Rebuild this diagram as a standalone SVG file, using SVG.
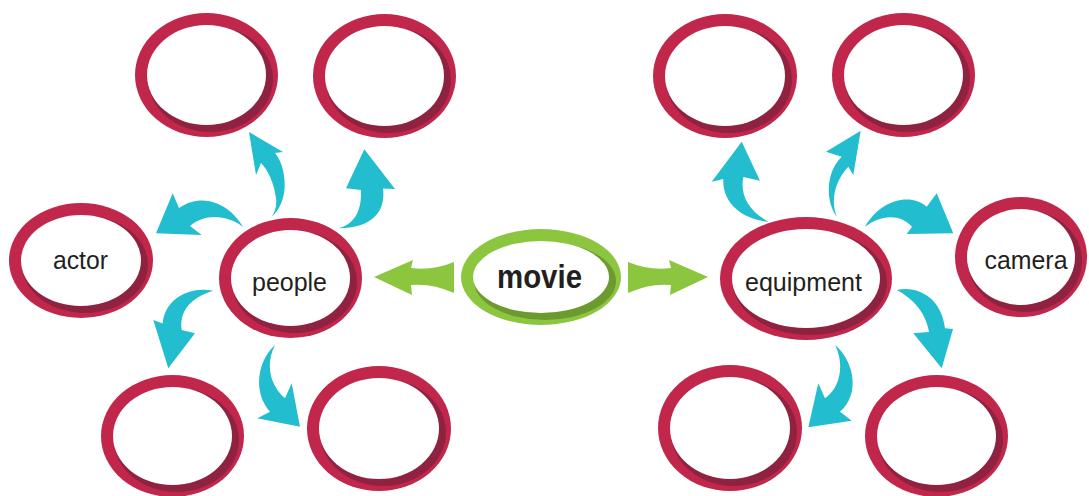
<svg xmlns="http://www.w3.org/2000/svg" width="1089" height="496" viewBox="0 0 1089 496">
<style>
.o{fill:#c1264b}
.d{fill:#8f2240}
.w{fill:#fff}
.go{fill:#8cc63f}
.gd{fill:#6c9a2f}
.a{fill:#22bdce}
.g{fill:#8cc63f}
.t{font-family:"Liberation Sans",Arial,sans-serif;font-size:26px;fill:#231f20;text-anchor:middle}
.b{font-weight:bold;font-size:33px}
</style>
<rect width="1089" height="496" fill="#fff"/>
<g id="connectors">
<path class="a" d="M271.7,216.7 C280,210 287,195 284,176 C283,166 279,158 275,153 L283,152 L249,132 L256,175 L261,163 C268,170 274,183 276,198 C277,206 275,212 271.7,216.7 Z"/>
<path class="a" d="M338.3,228.3 C352,225 362,214 361,190 L346,188.3 L364.3,149.3 L395,189 L383,188.5 C386,212 372,228 338.3,228.3 Z"/>
<path class="a" d="M243.3,227.3 C232,207 205,190 179,208 L172.7,193.3 L156,233.3 L201.7,235 L190,226 C205,213 228,215 243.3,227.3 Z"/>
<path class="a" d="M213.3,290.7 C190,286 165,298 162.7,323.5 L153.3,320 L168.3,368.3 L195,333.3 L181.7,330 C179,310 192,297 213.3,290.7 Z"/>
<path class="a" d="M275,345 C258,360 252,392 270,411.7 L257.3,418.3 L300,426.7 L291.7,383.3 L285,398.3 C270,385 265,365 275,345 Z"/>
<path class="a" d="M768.3,221.7 C745,220 722,205 723.3,179 L711.7,181.7 L741.7,141.7 L760,180.7 L743.3,177 C740,195 748,210 768.3,221.7 Z"/>
<path class="a" d="M836.7,216.7 C825,200 826,172 841.7,156.7 L826,151.7 L860.7,130.7 L853.3,175 L848.3,166.7 C836,180 830,198 836.7,216.7 Z"/>
<path class="a" d="M865,226.7 C880,200 910,192 926.7,206.7 L936.7,193.3 L953.3,233.3 L906.7,234 L912,226.7 C900,213 880,215 865,226.7 Z"/>
<path class="a" d="M896.7,290 C920,285 942,300 945,328.3 L953,329 L941.7,368.3 L913.3,333.3 L929,332 C926,312 912,298 896.7,290 Z"/>
<path class="a" d="M835,345 C855,362 860,395 840,411.7 L851.7,420.7 L808.3,427.3 L818.3,383.3 L825,398.3 C840,388 845,365 835,345 Z"/>
<path class="g" d="M628,262 Q650,271 671,268 L669,260 L708,277 L670,295 L671,285 Q650,283 628,293 Z"/>
<path class="g" d="M454,262 Q432,271 411,268 L413,260 L374,277 L412,295 L411,285 Q432,283 454,293 Z"/>
</g>
<g id="tl1"><ellipse class="o" cx="206.5" cy="75" rx="71.5" ry="62"/><ellipse class="d" cx="210.5" cy="79" rx="62.5" ry="53"/><ellipse class="w" cx="206.5" cy="75" rx="59.5" ry="50"/></g>
<g id="tl2"><ellipse class="o" cx="384.5" cy="76" rx="71.5" ry="62"/><ellipse class="d" cx="388.5" cy="80" rx="62.5" ry="53"/><ellipse class="w" cx="384.5" cy="76" rx="59.5" ry="50"/></g>
<g id="actor"><ellipse class="o" cx="81" cy="260.5" rx="72" ry="57.5"/><ellipse class="d" cx="85" cy="264.5" rx="63" ry="48.5"/><ellipse class="w" cx="81" cy="260.5" rx="60" ry="45.5"/><text class="t" x="80.5" y="269" textLength="55" lengthAdjust="spacingAndGlyphs">actor</text></g>
<g id="people"><ellipse class="o" cx="290.5" cy="278" rx="71.5" ry="60"/><ellipse class="d" cx="294.5" cy="282" rx="62.5" ry="51"/><ellipse class="w" cx="290.5" cy="278" rx="59.5" ry="48"/><text class="t" x="289.5" y="291" textLength="75" lengthAdjust="spacingAndGlyphs">people</text></g>
<g id="bl1"><ellipse class="o" cx="172.5" cy="436" rx="71.5" ry="61"/><ellipse class="d" cx="176.5" cy="440" rx="62.5" ry="52"/><ellipse class="w" cx="172.5" cy="436" rx="59.5" ry="49"/></g>
<g id="bl2"><ellipse class="o" cx="379" cy="428.5" rx="72" ry="62.5"/><ellipse class="d" cx="383" cy="432.5" rx="63" ry="53.5"/><ellipse class="w" cx="379" cy="428.5" rx="60" ry="50.5"/></g>
<g id="movie"><ellipse class="go" cx="541" cy="277" rx="80" ry="48"/><ellipse class="gd" cx="545" cy="281" rx="71" ry="39"/><ellipse class="w" cx="541" cy="277" rx="68" ry="36"/><text class="t b" x="539.5" y="288" textLength="85" lengthAdjust="spacingAndGlyphs">movie</text></g>
<g id="equipment"><ellipse class="o" cx="806" cy="278.5" rx="86" ry="61.5"/><ellipse class="d" cx="810" cy="282.5" rx="77" ry="52.5"/><ellipse class="w" cx="806" cy="278.5" rx="74" ry="49.5"/><text class="t" x="803.5" y="291" textLength="117" lengthAdjust="spacingAndGlyphs">equipment</text></g>
<g id="tr1"><ellipse class="o" cx="725" cy="76" rx="72" ry="62"/><ellipse class="d" cx="729" cy="80" rx="63" ry="53"/><ellipse class="w" cx="725" cy="76" rx="60" ry="50"/></g>
<g id="tr2"><ellipse class="o" cx="903.5" cy="75" rx="71.5" ry="62"/><ellipse class="d" cx="907.5" cy="79" rx="62.5" ry="53"/><ellipse class="w" cx="903.5" cy="75" rx="59.5" ry="50"/></g>
<g id="camera"><ellipse class="o" cx="1021" cy="257" rx="66" ry="60"/><ellipse class="d" cx="1025" cy="261" rx="57" ry="51"/><ellipse class="w" cx="1021" cy="257" rx="54" ry="48"/><text class="t" x="1026" y="269" textLength="83" lengthAdjust="spacingAndGlyphs">camera</text></g>
<g id="br1"><ellipse class="o" cx="730" cy="428" rx="72" ry="63"/><ellipse class="d" cx="734" cy="432" rx="63" ry="54"/><ellipse class="w" cx="730" cy="428" rx="60" ry="51"/></g>
<g id="br2"><ellipse class="o" cx="936.5" cy="436" rx="71.5" ry="61"/><ellipse class="d" cx="940.5" cy="440" rx="62.5" ry="52"/><ellipse class="w" cx="936.5" cy="436" rx="59.5" ry="49"/></g>
</svg>
